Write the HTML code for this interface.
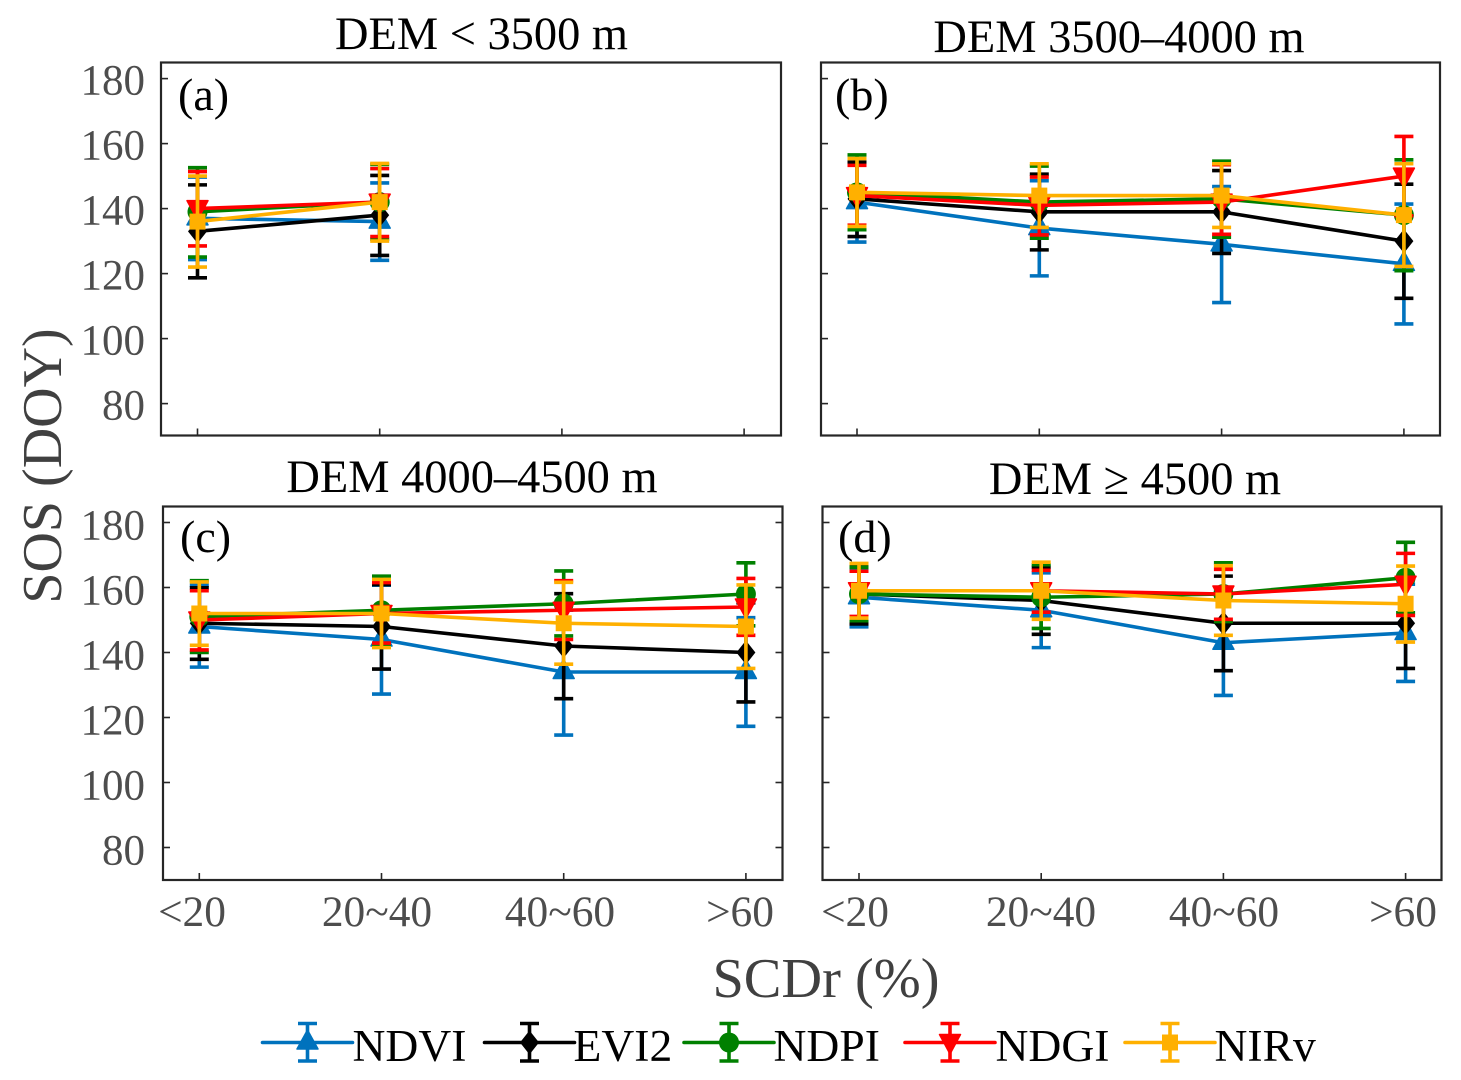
<!DOCTYPE html>
<html lang="en">
<head>
<meta charset="utf-8">
<title>SOS by SCDr and elevation</title>
<style>
html,body{margin:0;padding:0;background:#fff;}
svg{display:block;font-family:"Liberation Serif",serif;}
</style>
</head>
<body>
<svg id="chart" xmlns="http://www.w3.org/2000/svg" width="1461" height="1080" viewBox="0 0 1461 1080">
  <rect x="0" y="0" width="1461" height="1080" fill="#fff"/>
  <text x="481.5" y="49" font-size="46.4" text-anchor="middle" fill="#000">DEM &lt; 3500 m</text>
  <text x="1119" y="52" font-size="46.4" text-anchor="middle" fill="#000">DEM 3500–4000 m</text>
  <text x="472" y="492" font-size="46.4" text-anchor="middle" fill="#000">DEM 4000–4500 m</text>
  <text x="1135" y="494" font-size="46.4" text-anchor="middle" fill="#000">DEM ≥ 4500 m</text>
  <text transform="translate(61,466) rotate(-90)" font-size="56" text-anchor="middle" fill="#404040">SOS (DOY)</text>
  <text x="826" y="997" font-size="56.4" text-anchor="middle" fill="#404040">SCDr (%)</text>
  <text x="178" y="110" font-size="46" fill="#000">(a)</text>
  <text x="835" y="110" font-size="46" fill="#000">(b)</text>
  <text x="180" y="552" font-size="46" fill="#000">(c)</text>
  <text x="838" y="552" font-size="46" fill="#000">(d)</text>
  <g id="panels"></g>
  <g id="legend"></g>
</svg>
<script>
const categories = ["<20", "20~40", "40~60", ">60"];
const yTickValues = [80, 100, 120, 140, 160, 180];
const seriesNames = ["NDVI", "EVI2", "NDPI", "NDGI", "NIRv"];

// Each array lists panels a, b, c, d; each panel lists one value per SCDr class.
const meanNDVI = [[137,136],[142,134,129,123],[148,144,134,134],[157,153,143,146]];
const upperNDVI = [[149.7,147.9],[153.8,148.6,146.8,141.4],[160.7,160.7,153,150.7],[166,164.5,159,161]];
const lowerNDVI = [[124.3,124.1],[129.7,119.3,111.1,104.5],[135.5,127.2,114.6,117.3],[147.9,141.5,126.8,131.1]];

const meanEVI2 = [[133,138],[143,139,139,130],[149,148,142,140],[158,156,149,149]];
const upperEVI2 = [[147.3,150.2],[154.3,150.6,151.7,147.5],[159.9,160.9,158.1,155.3],[166.9,166.2,163.5,163]];
const lowerEVI2 = [[118.7,125.6],[131.4,127.3,126.2,112.4],[137.9,134.9,125.8,124.8],[148.8,145.6,134.4,135.1]];

const meanNDPI = [[139,142],[145,142,143,138],[151,153,155,158],[158,157,158,163]];
const upperNDPI = [[152.6,153.6],[156.5,153.1,154.6,155],[162.1,163.5,165.1,167.6],[166.2,167,167.6,173.9]];
const lowerNDPI = [[125.1,130.6],[133.5,130.9,131.2,120.9],[140,142.3,145.1,148.2],[149.8,147.4,149.5,152.2]];

const meanNDGI = [[140,142],[144,141,142,150],[150,152,153,154],[159,159,158,161]];
const upperNDGI = [[151.4,152.3],[153.3,149.7,153.5,162.2],[159,161.5,162.1,162.8],[165,165.3,165.6,170.5]];
const lowerNDGI = [[128.5,131.4],[134.9,131.9,132.1,137.8],[140.8,142.9,144,145.3],[151.1,152.4,150.2,151.4]];

const meanNIRv = [[136,142],[145,144,144,138],[152,152,149,148],[159,159,156,155]];
const upperNIRv = [[150,153.9],[155.4,153.8,153.8,153.8],[161.7,162.5,161.6,160.8],[167.4,167.8,166.7,166.6]];
const lowerNIRv = [[122,130],[134.5,134.2,134.2,122.2],[142.2,141.5,136.4,135.1],[150.6,150.2,145.3,143.2]];

const means = [meanNDVI, meanEVI2, meanNDPI, meanNDGI, meanNIRv];
const uppers = [upperNDVI, upperEVI2, upperNDPI, upperNDGI, upperNIRv];
const lowers = [lowerNDVI, lowerEVI2, lowerNDPI, lowerNDGI, lowerNIRv];

const SVGNS = "http://www.w3.org/2000/svg";
const colors = {NDVI:"#0072bd", EVI2:"#000000", NDPI:"#008000", NDGI:"#ff0000", NIRv:"#ffb000"};
const panelBoxes = [
  {id:"a", left:161, right:781, top:62.5, bottom:435.5, y140:208.6, x0:197.5, step:182.2, rightTicks:false, xLabels:false, labelRight:145, labelDy:16, xLabelCenters:[]},
  {id:"b", left:821, right:1440, top:62.5, bottom:435.5, y140:208.6, x0:857, step:182.3, rightTicks:false, xLabels:false, labelRight:0, labelDy:16, xLabelCenters:[]},
  {id:"c", left:163, right:782.5, top:506.5, bottom:880, y140:652.5, x0:199.3, step:182.2, rightTicks:true, xLabels:true, labelRight:145, labelDy:17, xLabelCenters:[192,377,560,740]},
  {id:"d", left:822.5, right:1441.5, top:506.5, bottom:880, y140:652.5, x0:859, step:182.2, rightTicks:false, xLabels:true, labelRight:0, labelDy:17, xLabelCenters:[855,1041,1224,1403]}
];
const pxPerUnit = 3.25;

function yScale(box, v) { return box.y140 - (v - 140) * pxPerUnit; }
function xScale(box, i) { return box.x0 + i * box.step; }

function make(tag, attrs, parent) {
  const node = document.createElementNS(SVGNS, tag);
  for (const k in attrs) node.setAttribute(k, attrs[k]);
  parent.appendChild(node);
  return node;
}

function drawMarker(parent, name, x, y) {
  const c = colors[name];
  let m;
  if (name === "NDVI") {
    m = make("polygon", {points:`${x},${y-12.5} ${x+10.5},${y+6.5} ${x-10.5},${y+6.5}`, fill:c, stroke:c, "stroke-width":1.5, "stroke-linejoin":"round"}, parent);
  } else if (name === "EVI2") {
    m = make("polygon", {points:`${x},${y-12} ${x+9.5},${y} ${x},${y+12} ${x-9.5},${y}`, fill:c}, parent);
  } else if (name === "NDPI") {
    m = make("circle", {cx:x, cy:y, r:10, fill:c}, parent);
  } else if (name === "NDGI") {
    m = make("polygon", {points:`${x-10.5},${y-8} ${x+10.5},${y-8} ${x},${y+11.5}`, fill:c, stroke:c, "stroke-width":1.5, "stroke-linejoin":"round"}, parent);
  } else {
    m = make("rect", {x:x-8, y:y-8, width:16, height:16, fill:c}, parent);
  }
  
  
  return m;
}

function drawErrorBar(parent, name, x, yUp, yLow) {
  const c = colors[name];
  const stem = make("line", {x1:x, x2:x, y1:yUp, y2:yLow, stroke:c, "stroke-width":3.6}, parent);
  
  
  const capTop = make("line", {x1:x-9.5, x2:x+9.5, y1:yUp, y2:yUp, stroke:c, "stroke-width":3.6}, parent);
  
  
  const capBottom = make("line", {x1:x-9.5, x2:x+9.5, y1:yLow, y2:yLow, stroke:c, "stroke-width":3.6}, parent);
  
  
}

const panelsRoot = document.getElementById("panels");
panelBoxes.forEach(function (box, p) {
  const g = make("g", {}, panelsRoot);
  
  

  const frame = make("rect", {x:box.left, y:box.top, width:box.right-box.left, height:box.bottom-box.top, fill:"none", stroke:"#262626", "stroke-width":2.2}, g);
  
  

  yTickValues.forEach(function (v) {
    const y = yScale(box, v);
    const tick = make("line", {x1:box.left, x2:box.left+7, y1:y, y2:y, stroke:"#262626", "stroke-width":1.6}, g);
    
    
    if (box.rightTicks) {
      const rt = make("line", {x1:box.right-7, x2:box.right, y1:y, y2:y, stroke:"#262626", "stroke-width":1.6}, g);
      
      
    }
    if (box.labelRight) {
      const lbl = make("text", {x:box.labelRight, y:y+box.labelDy, "font-size":43, "text-anchor":"end", fill:"#4d4d4d"}, g);
      lbl.textContent = String(v);
      
      
    }
  });

  categories.forEach(function (cat, i) {
    const x = xScale(box, i);
    const tick = make("line", {x1:x, x2:x, y1:box.bottom-7, y2:box.bottom, stroke:"#262626", "stroke-width":1.6}, g);
    
    
    if (box.xLabels) {
      const lbl = make("text", {x:box.xLabelCenters[i], y:926, "font-size":43.4, "text-anchor":"middle", fill:"#4d4d4d"}, g);
      lbl.textContent = cat;
      
      
    }
  });

  seriesNames.forEach(function (name, s) {
    const sg = make("g", {}, g);
    
    
    const vals = means[s][p];
    const pts = vals.map(function (v, i) { return xScale(box, i) + "," + yScale(box, v); }).join(" ");
    const line = make("polyline", {points:pts, fill:"none", stroke:colors[name], "stroke-width":3.6, "stroke-linejoin":"round"}, sg);
    
    
    vals.forEach(function (v, i) {
      const x = xScale(box, i);
      drawMarker(sg, name, x, yScale(box, v));
      drawErrorBar(sg, name, x, yScale(box, uppers[s][p][i]), yScale(box, lowers[s][p][i]));
    });
  });
});

const legendRoot = document.getElementById("legend");
const legendStart = [262.5, 484.5, 684, 905, 1125];
const legendTextX = [352.5, 573.5, 773.5, 995.5, 1214.5];
seriesNames.forEach(function (name, s) {
  const g = make("g", {}, legendRoot);
  
  
  const x0 = legendStart[s];
  const xc = x0 + 45;
  const line = make("line", {x1:x0, x2:x0+90, y1:1042.5, y2:1042.5, stroke:colors[name], "stroke-width":3.6, "stroke-linecap":"round"}, g);
  
  
  drawErrorBar(g, name, xc, 1023.5, 1061);
  drawMarker(g, name, xc, 1042.5);
  const t = make("text", {x:legendTextX[s], y:1061, "font-size":45.6, fill:"#000"}, g);
  t.textContent = name;
  
  
});
</script>
</body>
</html>
